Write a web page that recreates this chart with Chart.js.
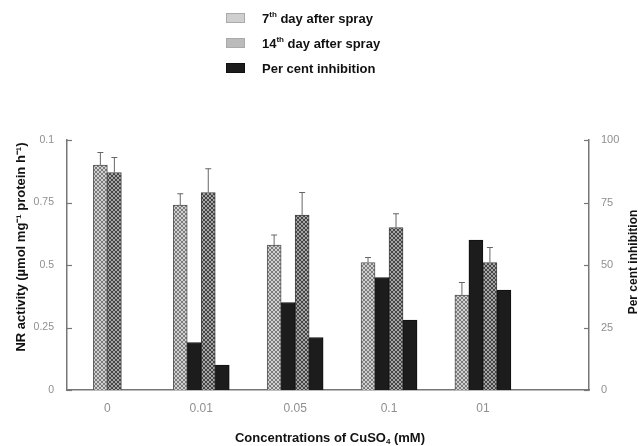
<!DOCTYPE html>
<html>
<head>
<meta charset="utf-8">
<script src="https://cdn.jsdelivr.net/npm/chart.js@4/dist/chart.umd.min.js"></script>
<style>
  html, body { margin: 0; padding: 0; background: #fff; }
  #wrap { width: 638px; height: 446px; }
</style>
</head>
<body>
<div id="wrap"><canvas id="c" width="638" height="446"></canvas></div>
<script>
// ---- data ----
const categories = ['0', '0.01', '0.05', '0.1', '01'];
const seriesNames = ['7th day after spray', '14th day after spray', 'Per cent inhibition'];
const day7 = [0.90, 0.74, 0.58, 0.51, 0.38];
const day7Err = [0.05, 0.045, 0.04, 0.02, 0.05];
const day14 = [0.87, 0.79, 0.70, 0.65, 0.51];
const day14Err = [0.06, 0.095, 0.09, 0.055, 0.06];
const inhib7 = [null, 19, 35, 45, 60];
const inhib14 = [null, 10, 21, 28, 40];
const leftTickLabels = ['0', '0.25', '0.5', '0.75', '0.1'];
const rightTickLabels = ['0', '25', '50', '75', '100'];
const xTitle = ['Concentrations of CuSO', '4', ' (mM)'];
const yTitle = 'NR activity (µmol mg\u207B\u00B9 protein h\u207B\u00B9)';
const y2Title = 'Per cent inhibition';

// ---- styles ----
const FONT = "'Liberation Sans', Arial, sans-serif";
function makePattern(bg, fg, size) {
  const c = document.createElement('canvas');
  c.width = size; c.height = size;
  const g = c.getContext('2d');
  g.fillStyle = bg; g.fillRect(0, 0, size, size);
  g.strokeStyle = fg; g.lineWidth = 1;
  g.beginPath();
  g.moveTo(0, 0); g.lineTo(size, size);
  g.moveTo(size, 0); g.lineTo(0, size);
  g.stroke();
  return g.createPattern(c, 'repeat');
}
const lightPat = makePattern('#d0d0d0', '#7c7c7c', 4);
const darkPat = makePattern('#a6a6a6', '#454545', 4);
const blackFill = '#1c1c1c';
const legendFills = ['#cfcfcf', '#bbbbbb', '#1c1c1c'];

const toPts = arr => arr.map((v, i) => ({ x: i, y: v }));

const errorBars = {
  id: 'errorBars',
  afterDatasetsDraw(chart) {
    const ctx = chart.ctx;
    chart.data.datasets.forEach((ds, di) => {
      if (!ds.errors) return;
      const meta = chart.getDatasetMeta(di);
      const sc = chart.scales[ds.yAxisID || 'y'];
      meta.data.forEach((el, i) => {
        const v = ds.data[i].y, e = ds.errors[i];
        if (v == null || e == null) return;
        const yTop = sc.getPixelForValue(v + e);
        ctx.save();
        ctx.strokeStyle = '#666';
        ctx.lineWidth = 1;
        ctx.beginPath();
        ctx.moveTo(el.x, el.y); ctx.lineTo(el.x, yTop);
        ctx.moveTo(el.x - 3, yTop); ctx.lineTo(el.x + 3, yTop);
        ctx.stroke();
        ctx.restore();
      });
    });
  }
};

const decor = {
  id: 'decor',
  afterDraw(chart) {
    const ctx = chart.ctx;
    const ca = chart.chartArea;
    // inward tick marks
    ctx.save();
    ctx.strokeStyle = '#777';
    ctx.lineWidth = 1.2;
    chart.scales.y.ticks.forEach(t => {
      const y = Math.round(chart.scales.y.getPixelForValue(t.value)) + 0.5;
      ctx.beginPath(); ctx.moveTo(ca.left, y); ctx.lineTo(ca.left + 5, y); ctx.stroke();
    });
    chart.scales.y2.ticks.forEach(t => {
      const y = Math.round(chart.scales.y2.getPixelForValue(t.value)) + 0.5;
      ctx.beginPath(); ctx.moveTo(ca.right - 5, y); ctx.lineTo(ca.right, y); ctx.stroke();
    });
    ctx.restore();

    const big = 'bold 13px ' + FONT, small = 'bold 8px ' + FONT;
    // axis titles
    ctx.save();
    ctx.fillStyle = '#111';
    ctx.font = big;
    ctx.textAlign = 'center';
    ctx.textBaseline = 'middle';
    ctx.save();
    ctx.translate(21, 247); ctx.rotate(-Math.PI / 2);
    ctx.fillText(yTitle, 0, 0);
    ctx.restore();
    ctx.save();
    ctx.font = 'bold 12px ' + FONT;
    ctx.translate(634, 262); ctx.rotate(-Math.PI / 2);
    ctx.fillText(y2Title, 0, 0);
    ctx.restore();
    // x title with subscript
    ctx.font = big; const w0 = ctx.measureText(xTitle[0]).width;
    ctx.font = small; const w1 = ctx.measureText(xTitle[1]).width;
    ctx.font = big; const w2 = ctx.measureText(xTitle[2]).width;
    let x = 330 - (w0 + w1 + w2) / 2;
    const yT = 438;
    ctx.textAlign = 'left';
    ctx.font = big; ctx.fillText(xTitle[0], x, yT); x += w0;
    ctx.font = small; ctx.fillText(xTitle[1], x, yT + 4); x += w1;
    ctx.font = big; ctx.fillText(xTitle[2], x, yT);
    ctx.restore();

    // legend
    const rowsY = [18, 43, 68];
    ctx.save();
    ctx.textBaseline = 'middle';
    ctx.textAlign = 'left';
    seriesNames.forEach((name, i) => {
      const yy = rowsY[i];
      ctx.fillStyle = legendFills[i];
      ctx.fillRect(226, yy - 5, 19, 10);
      ctx.strokeStyle = i === 2 ? '#111' : '#aaa';
      ctx.lineWidth = 1;
      ctx.strokeRect(226.5, yy - 4.5, 18, 9);
      ctx.fillStyle = '#111';
      const m = name.match(/^(\d+)(th)(.*)$/);
      let tx = 262;
      const ty = yy + 1;
      if (m) {
        ctx.font = big; ctx.fillText(m[1], tx, ty); tx += ctx.measureText(m[1]).width;
        ctx.font = small; ctx.fillText(m[2], tx, ty - 4); tx += ctx.measureText(m[2]).width;
        ctx.font = big; ctx.fillText(m[3], tx, ty);
      } else {
        ctx.font = big; ctx.fillText(name, tx, ty);
      }
    });
    ctx.restore();
  }
};

new Chart(document.getElementById('c'), {
  type: 'bar',
  data: {
    datasets: [
      { label: seriesNames[0], data: toPts(day7), errors: day7Err, backgroundColor: lightPat, borderColor: '#555', borderWidth: 1, yAxisID: 'y' },
      { label: seriesNames[2], data: toPts(inhib7), backgroundColor: blackFill, borderColor: '#111', borderWidth: 1, yAxisID: 'y2' },
      { label: seriesNames[1], data: toPts(day14), errors: day14Err, backgroundColor: darkPat, borderColor: '#444', borderWidth: 1, yAxisID: 'y' },
      { label: seriesNames[2], data: toPts(inhib14), backgroundColor: blackFill, borderColor: '#111', borderWidth: 1, yAxisID: 'y2' }
    ]
  },
  options: {
    responsive: false,
    animation: false,
    datasets: { bar: { skipNull: true, barThickness: 14 } },
    layout: { padding: { top: 140, left: 0, right: 0, bottom: 0 } },
    plugins: { legend: { display: false }, tooltip: { enabled: false } },
    scales: {
      x: {
        type: 'linear',
        offset: false,
        min: -0.43,
        max: 5.13,
        grid: { display: false },
        border: { display: true, color: '#777', width: 1.5 },
        afterBuildTicks(scale) { scale.ticks = categories.map((_, i) => ({ value: i })); },
        afterFit(scale) { scale.height = 56; },
        ticks: {
          color: '#8f8f8f',
          font: { family: FONT, size: 12 },
          padding: 3,
          autoSkip: false,
          maxRotation: 0,
          callback: v => categories[v]
        }
      },
      y: {
        position: 'left',
        min: 0, max: 1,
        grid: { display: false },
        border: { display: true, color: '#777', width: 1.5 },
        afterFit(scale) { scale.width = 67; },
        ticks: {
          stepSize: 0.25,
          color: '#8f8f8f',
          font: { family: FONT, size: 10.5 },
          padding: 5,
          callback: (v, i) => leftTickLabels[i]
        }
      },
      y2: {
        position: 'right',
        min: 0, max: 100,
        grid: { display: false },
        border: { display: true, color: '#777', width: 1.5 },
        afterFit(scale) { scale.width = 49; },
        ticks: {
          stepSize: 25,
          color: '#8f8f8f',
          font: { family: FONT, size: 11 },
          padding: 4,
          callback: (v, i) => rightTickLabels[i]
        }
      }
    }
  },
  plugins: [errorBars, decor]
});
</script>
</body>
</html>
